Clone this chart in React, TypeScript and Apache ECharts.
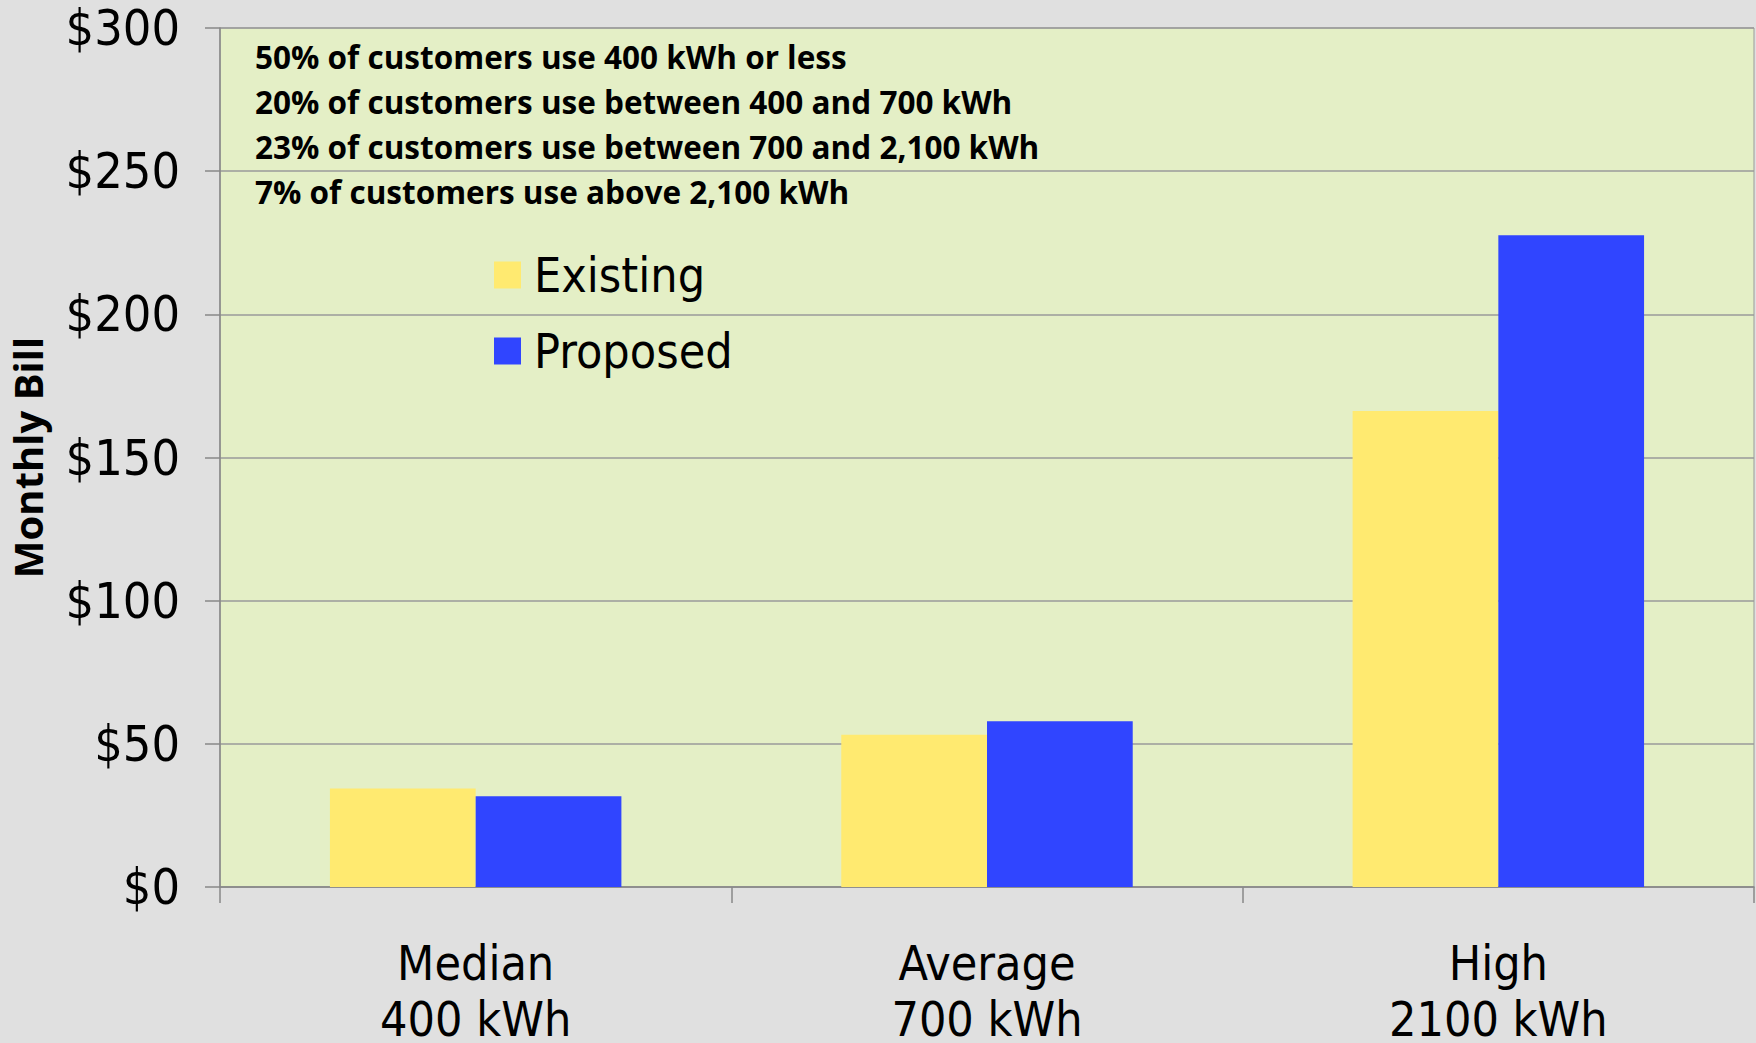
import React, { useEffect, useRef } from "react";
import * as echarts from "echarts";

const categories = ["Median\n400 kWh", "Average\n700 kWh", "High\n2100 kWh"];
const existing = [34.4, 53.2, 166.2];
const proposed = [31.7, 57.9, 227.6];
const notes = [
  "50% of customers use 400 kWh or less",
  "20% of customers use between 400 and 700 kWh",
  "23% of customers use between 700 and 2,100 kWh",
  "7% of customers use above 2,100 kWh",
];

const LABEL_FONT = "'DejaVu Sans Condensed', 'DejaVu Sans', sans-serif";
const NOTE_FONT = "'Open Sans', 'Noto Sans', sans-serif";

export default function App() {
  const ref = useRef<HTMLDivElement>(null);
  useEffect(() => {
    if (!ref.current) return;
    const chart = echarts.init(ref.current, undefined, { renderer: "svg" });
    chart.setOption({
      animation: false,
      backgroundColor: "#e0e0e0",
      grid: {
        left: 220,
        right: 2,
        top: 28,
        bottom: 156,
        containLabel: false,
        outerBoundsMode: "none",
        show: true,
        backgroundColor: "#e4efc6",
        borderColor: "#9a9a9a",
        borderWidth: 1,
      },
      legend: {
        orient: "vertical",
        left: 489,
        top: 246,
        itemWidth: 27,
        itemHeight: 27,
        itemGap: 28,
        icon: "rect",
        textStyle: {
          fontFamily: LABEL_FONT,
          fontSize: 48,
          color: "#000",
          padding: [0, 0, 0, 8],
        },
        data: ["Existing", "Proposed"],
      },
      graphic: notes.map((t, i) => ({
        type: "text",
        left: 255,
        top: 40 + i * 45,
        style: {
          text: t,
          font: `bold 31.5px ${NOTE_FONT}`,
          fill: "#000",
        },
      })),
      xAxis: {
        type: "category",
        data: categories,
        axisLine: { lineStyle: { color: "#888", width: 1.5 } },
        axisTick: { show: true, length: 16, lineStyle: { color: "#888", width: 1.5 } },
        axisLabel: {
          fontFamily: LABEL_FONT,
          fontSize: 48,
          color: "#000",
          lineHeight: 56,
          margin: 48,
        },
      },
      yAxis: {
        type: "value",
        min: 0,
        max: 300,
        interval: 50,
        name: "Monthly Bill",
        nameLocation: "middle",
        nameRotate: 90,
        nameGap: 173,
        nameTextStyle: {
          fontFamily: NOTE_FONT,
          fontWeight: "bold",
          fontSize: 40,
          color: "#000",
        },
        axisLine: { show: true, lineStyle: { color: "#888", width: 1.5 } },
        axisTick: { show: true, length: 15, lineStyle: { color: "#888", width: 1.5 } },
        axisLabel: {
          formatter: (v: number) => "$" + v,
          fontFamily: LABEL_FONT,
          fontSize: 50,
          color: "#000",
          margin: 40,
        },
        splitLine: { lineStyle: { color: "#9a9a9a", width: 1.5 } },
      },
      series: [
        {
          name: "Existing",
          type: "bar",
          data: existing,
          barGap: "0%",
          barCategoryGap: "43%",
          itemStyle: { color: "#ffea70" },
        },
        {
          name: "Proposed",
          type: "bar",
          data: proposed,
          itemStyle: { color: "#3045ff" },
        },
      ],
    });
    return () => chart.dispose();
  }, []);
  return (
    <div
      ref={ref}
      style={{ position: "fixed", left: 0, top: 0, width: 1756, height: 1043 }}
    />
  );
}
